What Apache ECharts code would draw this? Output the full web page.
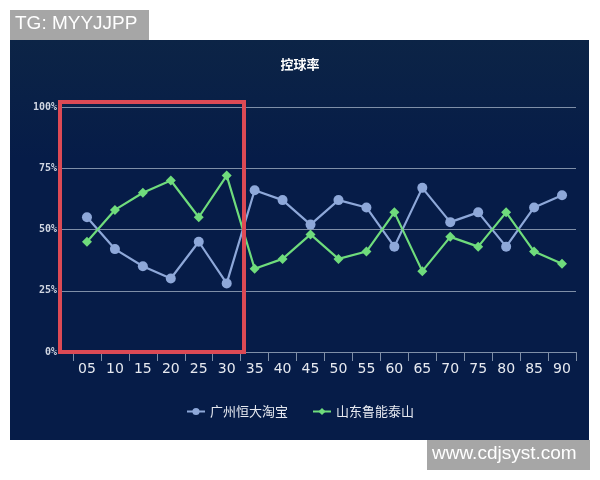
<!DOCTYPE html>
<html>
<head>
<meta charset="utf-8">
<script src="https://cdn.jsdelivr.net/npm/echarts@6/dist/echarts.min.js"></script>
<style>
  html, body { margin: 0; padding: 0; background: #ffffff; }
  #panel { position: absolute; left: 10px; top: 40px; width: 579px; height: 400px;
           background: linear-gradient(#0c2446, #061c48 30%, #061c48); }
  #chart { position: absolute; left: 0; top: 0; width: 600px; height: 480px; }
</style>
</head>
<body>
<div id="panel"></div>
<div id="chart"></div>
<script>
const categories = ['05','10','15','20','25','30','35','40','45','50','55','60','65','70','75','80','85','90'];
const guangzhou = [55,42,35,30,45,28,66,62,52,62,59,43,67,53,57,43,59,64];
const shandong  = [45,58,65,70,55,72,34,38,48,38,41,57,33,47,43,57,41,36];
const seriesNames = ['广州恒大淘宝', '山东鲁能泰山'];
const titleText = '控球率';

const chart = echarts.init(document.getElementById('chart'), null, { renderer: 'canvas' });
const splitColor = '#7f8fa8';

chart.setOption({
  backgroundColor: 'transparent',
  animation: false,
  title: {
    text: titleText, left: 'center', top: 53,
    textStyle: { color: '#ffffff', fontSize: 13, fontWeight: 'bold', fontFamily: 'Noto Sans CJK SC' }
  },
  legend: {
    bottom: 57, left: 'center', itemGap: 24, itemWidth: 18, itemHeight: 9,
    textStyle: { color: '#e6e9f0', fontSize: 13, fontFamily: 'Noto Sans CJK SC' },
    data: seriesNames
  },
  grid: [
    { left: 73, right: 24, top: 107, bottom: 128 },
    { left: 60, width: 13, top: 107, bottom: 128 }
  ],
  xAxis: [
    {
      type: 'category', data: categories, boundaryGap: true, gridIndex: 0,
      axisLine: { lineStyle: { color: splitColor, width: 1 } },
      axisTick: { show: true, length: 9, inside: false, lineStyle: { color: splitColor } },
      axisLabel: { color: '#e6e9f0', fontSize: 14, margin: 10, fontFamily: 'DejaVu Sans' }
    },
    {
      type: 'value', gridIndex: 1, min: 0, max: 1,
      axisLine: { show: true, lineStyle: { color: splitColor } },
      axisTick: { show: false }, axisLabel: { show: false }, splitLine: { show: false }
    }
  ],
  yAxis: [
    {
      type: 'value', min: 0, max: 100, interval: 25, gridIndex: 0,
      axisLine: { show: false }, axisTick: { show: false },
      axisLabel: { show: false },
      splitLine: { lineStyle: { color: splitColor, width: 1 } }
    },
    {
      type: 'value', min: 0, max: 100, interval: 25, gridIndex: 1,
      axisLine: { show: false }, axisTick: { show: false },
      axisLabel: { color: '#d0d6e2', fontSize: 10, fontWeight: 'bold', margin: 3,
                   fontFamily: 'DejaVu Sans Mono', formatter: '{value}%' },
      splitLine: { lineStyle: { color: splitColor, width: 1 } }
    }
  ],
  series: [
    {
      name: seriesNames[0], type: 'line', data: guangzhou,
      xAxisIndex: 0, yAxisIndex: 0,
      symbol: 'circle', symbolSize: 10,
      lineStyle: { color: '#8ea8d9', width: 2.2 },
      itemStyle: { color: '#8ea8d9' }
    },
    {
      name: seriesNames[1], type: 'line', data: shandong,
      xAxisIndex: 0, yAxisIndex: 0,
      symbol: 'diamond', symbolSize: 10,
      lineStyle: { color: '#6fdc7c', width: 2.2 },
      itemStyle: { color: '#6fdc7c' }
    }
  ],
  graphic: [
    { type: 'rect', shape: { x: 60, y: 102, width: 184, height: 250 },
      style: { fill: 'transparent', stroke: '#dc4a55', lineWidth: 4 }, z: 100 },
    { type: 'rect', shape: { x: 10, y: 10, width: 139, height: 30 },
      style: { fill: '#a6a6a6' }, z: 100 },
    { type: 'text', x: 15, y: 14, z: 101,
      style: { text: 'TG: MYYJJPP', fill: '#ffffff', fontSize: 19, fontFamily: 'Liberation Sans' } },
    { type: 'rect', shape: { x: 427, y: 440, width: 163, height: 30 },
      style: { fill: '#a6a6a6' }, z: 100 },
    { type: 'text', x: 432, y: 444, z: 101,
      style: { text: 'www.cdjsyst.com', fill: '#ffffff', fontSize: 19, fontFamily: 'Liberation Sans' } }
  ]
});
</script>
</body>
</html>
